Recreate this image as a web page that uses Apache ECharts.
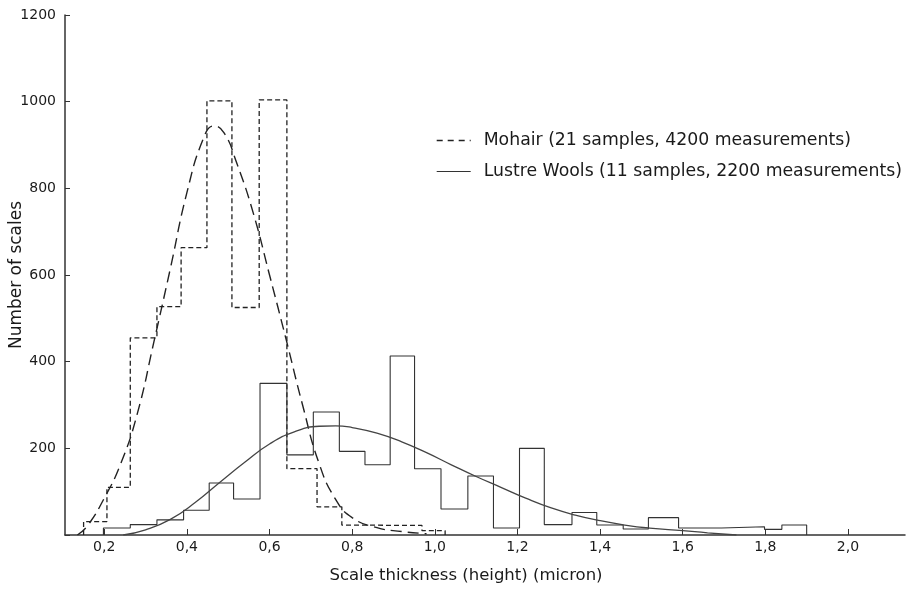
<!DOCTYPE html>
<html>
<head>
<meta charset="utf-8">
<script src="https://cdn.jsdelivr.net/npm/echarts@6/dist/echarts.min.js"></script>
<style>
  html, body { margin: 0; padding: 0; background: #fff; }
  #main { width: 914px; height: 590px; }
</style>
</head>
<body>
<div id="main"></div>
<script>
// 图表数据
var mohairName = 'Mohair (21 samples, 4200 measurements)';
var lustreName = 'Lustre Wools (11 samples, 2200 measurements)';

// Mohair 直方图：分组边界与计数
var mohairEdges = [0.150, 0.2065, 0.263, 0.3275, 0.386, 0.4485, 0.509, 0.575, 0.642, 0.715, 0.775, 0.840, 0.905, 0.969, 1.025];
var mohairCounts = [31, 110, 455, 527, 663, 1002, 525, 1004, 153, 65, 23, 22, 22, 10];

// Lustre Wools 直方图
var lustreEdges = [0.198, 0.263, 0.3275, 0.392, 0.454, 0.513, 0.577, 0.642, 0.706, 0.769, 0.831, 0.892, 0.951, 1.015, 1.080, 1.142, 1.205, 1.265, 1.332, 1.392, 1.456, 1.517, 1.590, 1.694, 1.798, 1.840, 1.900];
var lustreCounts = [16, 24, 35, 57, 120, 83, 350, 185, 284, 193, 162, 413, 153, 60, 136, 16, 200, 24, 52, 23, 14, 40, 16, 19, 13, 23];

// 拟合曲线（读点）
var mohairCurveX = [0.135, 0.16, 0.2, 0.24, 0.28, 0.32, 0.36, 0.40, 0.44, 0.465, 0.49, 0.52, 0.56, 0.60, 0.64, 0.68, 0.72, 0.76, 0.80, 0.86, 0.92, 0.98];
var mohairCurveY = [0, 22, 85, 165, 280, 445, 615, 790, 915, 944, 928, 860, 745, 600, 452, 300, 165, 82, 40, 17, 8, 3];
var lustreCurveX = [0.246, 0.30, 0.36, 0.42, 0.48, 0.54, 0.60, 0.66, 0.72, 0.76, 0.80, 0.86, 0.92, 0.98, 1.04, 1.10, 1.16, 1.22, 1.28, 1.34, 1.40, 1.46, 1.52, 1.60, 1.66, 1.73];
var lustreCurveY = [0, 12, 36, 75, 122, 168, 210, 238, 251, 252, 248, 235, 215, 190, 162, 135, 110, 85, 63, 46, 33, 23, 16, 10, 5, 0];

var xTicks = [0.2, 0.4, 0.6, 0.8, 1.0, 1.2, 1.4, 1.6, 1.8, 2.0];

// 直方图轮廓：每组一个点，配合 step:'end'
function histPoints(edges, counts) {
    var pts = [[edges[0], 0]];
    for (var i = 0; i < counts.length; i++) {
        pts.push([edges[i], counts[i]]);
    }
    pts.push([edges[edges.length - 1], 0]);
    return pts;
}
function zip(xs, ys) {
    return xs.map(function (x, i) { return [x, ys[i]]; });
}

var font = 'DejaVu Sans, Liberation Sans, sans-serif';
var ink = '#1a1a1a';

var myChart = echarts.init(document.getElementById('main'));

myChart.setOption({
    animation: false,
    backgroundColor: '#fff',
    grid: { left: 65, right: 9, top: 15, bottom: 55, containLabel: false, outerBoundsMode: 'none' },
    legend: {
        orient: 'vertical',
        left: 431,
        top: 127,
        itemWidth: 34,
        itemHeight: 12,
        itemGap: 14,
        itemStyle: { opacity: 0 },
        textStyle: { fontFamily: font, fontSize: 17.3, color: ink, padding: [0, 0, 0, 8] },
        data: [
            { name: mohairName, lineStyle: { type: [6, 5], width: 1.4, color: '#222' } },
            { name: lustreName, lineStyle: { width: 1.2, color: '#333' } }
        ]
    },
    xAxis: {
        type: 'value',
        min: 0.105,
        max: 2.138,
        name: 'Scale thickness (height) (micron)',
        nameLocation: 'middle',
        nameGap: 32,
        nameMoveOverlap: false,
        nameTextStyle: { fontFamily: font, fontSize: 16.5, color: ink, padding: [0, 38, 0, 0] },
        axisLine: { lineStyle: { color: '#333', width: 1.5 } },
        axisTick: { customValues: xTicks, inside: true, length: 6, lineStyle: { color: '#333' } },
        axisLabel: {
            customValues: xTicks,
            fontFamily: font, fontSize: 14, color: ink, margin: 5,
            formatter: function (v) { return v.toFixed(1).replace('.', ','); }
        },
        splitLine: { show: false }
    },
    yAxis: {
        type: 'value',
        min: 0,
        max: 1200,
        interval: 200,
        name: 'Number of scales',
        nameLocation: 'middle',
        nameGap: 40,
        nameMoveOverlap: false,
        nameTextStyle: { fontFamily: font, fontSize: 17, color: ink },
        axisLine: { show: true, lineStyle: { color: '#333', width: 1.5 } },
        axisTick: { show: true, inside: true, length: 5, lineStyle: { color: '#333' } },
        axisLabel: {
            fontFamily: font, fontSize: 14, color: ink, margin: 9,
            formatter: function (v) { return v === 0 ? '' : v; }
        },
        splitLine: { show: false }
    },
    series: [
        {
            name: mohairName,
            type: 'line',
            step: 'end',
            symbol: 'none',
            silent: true,
            data: histPoints(mohairEdges, mohairCounts),
            lineStyle: { color: '#222', width: 1.3, type: [5, 3] }
        },
        {
            name: mohairName,
            type: 'line',
            smooth: 0.5,
            symbol: 'none',
            silent: true,
            data: zip(mohairCurveX, mohairCurveY),
            lineStyle: { color: '#222', width: 1.4, type: [11, 6] }
        },
        {
            name: lustreName,
            type: 'line',
            step: 'end',
            symbol: 'none',
            silent: true,
            data: histPoints(lustreEdges, lustreCounts),
            lineStyle: { color: '#333', width: 1.1 }
        },
        {
            name: lustreName,
            type: 'line',
            smooth: 0.5,
            symbol: 'none',
            silent: true,
            data: zip(lustreCurveX, lustreCurveY),
            lineStyle: { color: '#444', width: 1.3 }
        }
    ]
});
</script>
</body>
</html>
